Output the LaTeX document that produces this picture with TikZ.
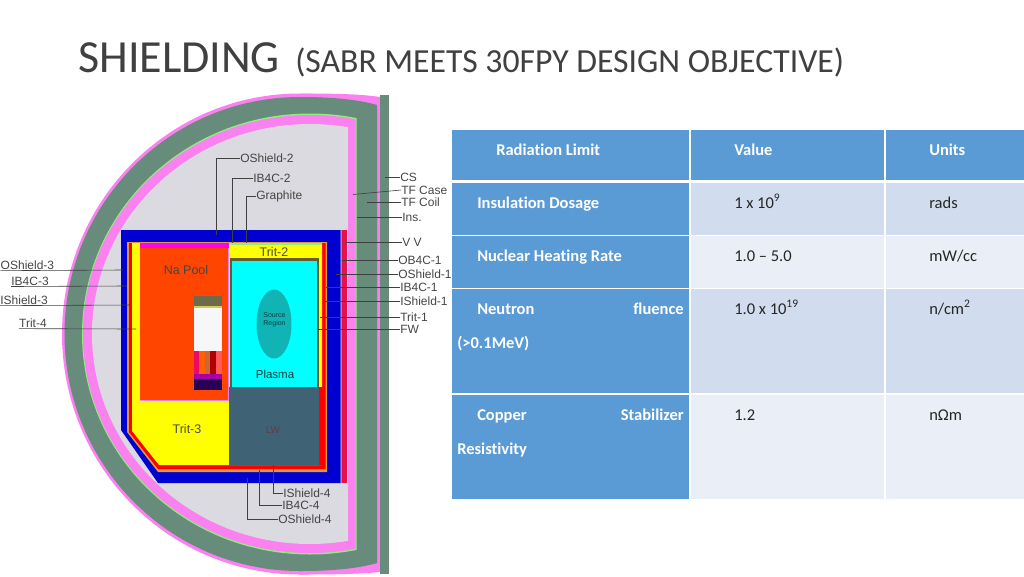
\documentclass[tikz,border=0pt]{standalone}
\usepackage{fontspec}
\setmainfont[Ligatures={TeX,NoCommon}]{Carlito}
\newfontfamily\labfont{Liberation Sans}
\usepackage{tikz}
\definecolor{steel}{HTML}{5B9BD5}
\definecolor{rowdark}{HTML}{D1DDEE}
\definecolor{rowlight}{HTML}{E9EEF7}
\definecolor{coil}{HTML}{678C7C}
\definecolor{lilac}{HTML}{FB80F0}
\definecolor{lgreen}{HTML}{90EE80}
\definecolor{grayin}{HTML}{DADAE0}
\definecolor{navyblue}{HTML}{0000D0}
\definecolor{napool}{HTML}{FF4500}
\definecolor{wall}{HTML}{3F6274}
\definecolor{title}{HTML}{404040}
\definecolor{labtext}{HTML}{454545}
\definecolor{pureyellow}{HTML}{FFFF00}
\definecolor{purecyan}{HTML}{00FFFF}
\definecolor{puremagenta}{HTML}{FF00F0}
\definecolor{purered}{HTML}{FF0000}
\definecolor{crimsonv}{HTML}{E8104A}
\definecolor{framebrown}{HTML}{E09A3C}
\definecolor{plasmaframe}{HTML}{6B5A2A}
\definecolor{sourcereg}{HTML}{10B4B4}

\begin{document}
\begin{tikzpicture}[x=1pt, y=-1pt, line width=.5pt,
    lab/.style={font=\labfont\fontsize{12}{12}\selectfont, text=labtext, inner sep=0pt},
    inlab/.style={font=\labfont\fontsize{12.5}{12.5}\selectfont, text=labtext, inner sep=0pt},
    lead/.style={draw=black!75, line width=.6pt},
    head/.style={font=\fontsize{16.5}{18}\selectfont\bfseries, text=white, anchor=base west, inner sep=0pt},
    cell/.style={font=\fontsize{16.5}{18}\selectfont, text=black!85, anchor=base west, inner sep=0pt}]
    \clip (0,0) rectangle (1024,576);

    % title
    \node[anchor=base west, inner sep=0pt, text=title, font=\fontsize{46}{46}\selectfont] (shield) at (78,72) {SHIELDING};
    \node[anchor=base west, inner sep=0pt, text=title, font=\fontsize{33.7}{34}\selectfont] (objective) at (295,72) {(SABR MEETS 30FPY DESIGN OBJECTIVE)};

    % machine cross section, outside in
    \fill[lilac] (300,93.5) .. controls (335,93.5) and (360,94) .. (380,97) -- (380,572) .. controls (360,574) and (335,574.5) .. (300,574.5) -- cycle;
    \begin{scope}
        \clip (0,90) rectangle (380,576);
        \fill[lilac] (300,334) ellipse (238 and 240.5);
    \end{scope}
    \fill[coil] (300,97) .. controls (335,97) and (360,100) .. (377,105) -- (377,563) .. controls (360,568) and (335,571) .. (300,571) -- cycle;
    \begin{scope}
        \clip (0,90) rectangle (377,576);
        \fill[coil] (300,334) ellipse (235.5 and 237);
    \end{scope}
    \begin{scope}
        \clip (0,90) rectangle (356.5,576);
        \fill[lgreen] (310,334) ellipse (228 and 220.5);
    \end{scope}
    \begin{scope}
        \clip (0,90) rectangle (355.5,576);
        \fill[lilac] (310,334) ellipse (227 and 219);
    \end{scope}
    \begin{scope}
        \clip (0,90) rectangle (348,576);
        \fill[grayin] (310,334) ellipse (218 and 210);
    \end{scope}
    \fill[coil] (380,95) rectangle (389,574);

    % vessel and shields
    \fill[navyblue] (121,230) -- (340.5,230) -- (340.5,483) -- (158,483) -- (121,430) -- cycle;
    \fill[crimsonv] (340.5,230) rectangle (347,483);
    \fill[red!60!white] (340.5,230) rectangle (342,483);
    \fill[framebrown] (127,242) -- (327,242) -- (327,472) -- (158,472) -- (127,432) -- cycle;
    \fill[purered] (129,243) -- (325.5,243) -- (325.5,469) -- (158,469) -- (129,432) -- cycle;
    \fill[pureyellow] (132,243) -- (322,243) -- (322,465) -- (159,465) -- (132,431) -- cycle;

    % Na pool
    \fill[puremagenta] (140,243) rectangle (228.5,248);
    \fill[lilac] (140,248) rectangle (228.5,401);
    \fill[napool] (140,248) rectangle (227.5,400);
    \fill[black!65!yellow] (193.7,296) rectangle (222,306);
    \fill[yellow!60!gray] (193.7,306) rectangle (222,308);
    \fill[white!97!black] (193.7,308) rectangle (222,351);
    \fill[magenta!60!red] (193.7,351) rectangle (199,374);
    \fill[orange!75!red] (199,351) rectangle (205,374);
    \fill[brown!80!red] (205,351) rectangle (210,374);
    \fill[red!70!black] (210,351) rectangle (215.7,374);
    \fill[red!65!white] (215.7,351) rectangle (222,374);
    \fill[violet!70!magenta] (193.7,374) rectangle (222,379);
    \fill[blue!40!black!85!red] (193.7,379) rectangle (222,390);

    % plasma chamber
    \fill[lgreen] (229,243) rectangle (322,244.5);
    \fill[plasmaframe] (229.5,258) rectangle (319,388);
    \fill[purecyan] (232,261) rectangle (317,388);
    \fill[sourcereg] (274,324) ellipse (17.5 and 34.5);
    \fill[purered] (319,387) rectangle (324,465);
    \fill[wall] (229,387) rectangle (319,464.5);

    % labels inside the machine
    \node[inlab] (napoollab) at (186,270) {Na Pool};
    \node[inlab, text=black!70] (trittwolab) at (274,252) {Trit-2};
    \node[inlab, font=\labfont\fontsize{11.5}{12}\selectfont, text=teal!50!black] (plasmalab) at (275,374) {Plasma};
    \node[inlab, text=black!70] (tritthreelab) at (187,429) {Trit-3};
    \node[inlab, font=\labfont\fontsize{7}{7.5}\selectfont, align=center, text=teal!50!black] (sourcelab) at (274.5,320) {Source\\Region};
    \node[inlab, font=\labfont\fontsize{10}{10}\selectfont, text=red!25!wall!85!black] (lwlab) at (273,430) {LW};

    % top leaders
    \node[lab, anchor=west] (oshieldtwo) at (240,158) {OShield-2};
    \coordinate (oshieldtwoend) at (216.5,235);
    \draw[lead] (oshieldtwo.west) -| (oshieldtwoend);
    \node[lab, anchor=west] (ibtwo) at (253,178) {IB4C-2};
    \coordinate (ibtwoend) at (232,243);
    \draw[lead] (ibtwo.west) -| (ibtwoend);
    \node[lab, anchor=west] (graphite) at (256,196.5) {Graphite};
    \coordinate (graphiteend) at (246,243);
    \draw[lead] (graphite.west) -| (graphiteend);

    % right leaders
    \node[lab, anchor=west] (cs) at (400,177) {CS};
    \coordinate (csend) at (385,177);
    \draw[lead] (cs) -- (csend);
    \node[lab, anchor=west] (tfcase) at (401,190) {TF Case};
    \coordinate (tfcaseend) at (353,194.5);
    \draw[lead] (tfcase.west) -- (tfcaseend);
    \node[lab, anchor=west] (tfcoil) at (401,202) {TF Coil};
    \coordinate (tfcoilend) at (367,202);
    \draw[lead] (tfcoil) -- (tfcoilend);
    \node[lab, anchor=west] (ins) at (402,217) {Ins.};
    \coordinate (insend) at (357,217);
    \draw[lead] (ins) -- (insend);
    \node[lab, anchor=west] (vv) at (402,242) {V V};
    \coordinate (vvend) at (346,242);
    \draw[lead] (vv) -- (vvend);
    \node[lab, anchor=west] (obone) at (398,260) {OB4C-1};
    \coordinate (oboneend) at (342,260);
    \draw[lead] (obone) -- (oboneend);
    \node[lab, anchor=west] (oshieldone) at (398,274) {OShield-1};
    \coordinate (oshieldoneend) at (336,274);
    \draw[lead] (oshieldone) -- (oshieldoneend);
    \node[lab, anchor=west] (ibone) at (400,287) {IB4C-1};
    \coordinate (iboneend) at (326,287);
    \draw[lead] (ibone) -- (iboneend);
    \node[lab, anchor=west] (ishieldone) at (400,301) {IShield-1};
    \coordinate (ishieldoneend) at (324,301);
    \draw[lead] (ishieldone) -- (ishieldoneend);
    \node[lab, anchor=west] (tritone) at (400,317) {Trit-1};
    \coordinate (tritoneend) at (320,317);
    \draw[lead] (tritone) -- (tritoneend);
    \node[lab, anchor=west] (fw) at (400,329) {FW};
    \coordinate (fwend) at (318,329);
    \draw[lead] (fw) -- (fwend);

    % left leaders
    \node[lab, anchor=west] (oshieldthree) at (0.5,265) {OShield-3};
    \coordinate (oshieldthreeend) at (123,270);
    \draw[lead] (oshieldthree.south west) ++(0,1) -- (oshieldthreeend);
    \node[lab, anchor=east] (ibthree) at (49,281) {IB4C-3};
    \coordinate (ibthreeend) at (127,286);
    \draw[lead] (ibthree.south west) ++(0,1) -- (ibthreeend);
    \node[lab, anchor=east] (ishieldthree) at (48,300) {IShield-3};
    \coordinate (ishieldthreeend) at (130,305);
    \draw[lead] (ishieldthree.south west) ++(0,1) -- (ishieldthreeend);
    \node[lab, anchor=east] (tritfour) at (47,323) {Trit-4};
    \coordinate (tritfourend) at (136,329);
    \draw[lead] (tritfour.south west) ++(0,1) -- (tritfourend);

    % bottom leaders
    \node[lab, anchor=west] (ishieldfour) at (283,493.5) {IShield-4};
    \coordinate (ishieldfourend) at (273.7,465);
    \draw[lead] (ishieldfour.west) -| (ishieldfourend);
    \node[lab, anchor=west] (ibfour) at (282,505) {IB4C-4};
    \coordinate (ibfourend) at (259,470);
    \draw[lead] (ibfour.west) -| (ibfourend);
    \node[lab, anchor=west] (oshieldfour) at (278,519) {OShield-4};
    \coordinate (oshieldfourend) at (247,478);
    \draw[lead] (oshieldfour.west) -| (oshieldfourend);

    % table
    \fill[steel] (452,130) rectangle (689,180);
    \fill[steel] (690.5,130) rectangle (884,180);
    \fill[steel] (885.5,130) rectangle (1024,180);
    \fill[steel] (452,183) rectangle (689,234.5);
    \fill[steel] (452,236) rectangle (689,287.5);
    \fill[steel] (452,289) rectangle (689,393);
    \fill[steel] (452,395) rectangle (689,499);
    \fill[rowdark] (690.5,183) rectangle (884,234.5);
    \fill[rowdark] (885.5,183) rectangle (1024,234.5);
    \fill[rowlight] (690.5,236) rectangle (884,287.5);
    \fill[rowlight] (885.5,236) rectangle (1024,287.5);
    \fill[rowdark] (690.5,289) rectangle (884,393);
    \fill[rowdark] (885.5,289) rectangle (1024,393);
    \fill[rowlight] (690.5,395) rectangle (884,499);
    \fill[rowlight] (885.5,395) rectangle (1024,499);

    \node[head] (limit) at (496,155) {Radiation Limit};
    \node[head] (value) at (734,155) {Value};
    \node[head] (units) at (929,155) {Units};
    \node[head] (dosage) at (477,208) {Insulation Dosage};
    \node[cell] (dosageval) at (734,208) {1 x 10\textsuperscript{9}};
    \node[cell] (dosageunit) at (929,208) {rads};
    \node[head] (heating) at (477,261) {Nuclear Heating Rate};
    \node[cell] (heatingval) at (734,261) {1.0 -- 5.0};
    \node[cell] (heatingunit) at (929,261) {mW/cc};
    \node[head] (neutron) at (477,314) {Neutron};
    \node[head, anchor=base east] (fluence) at (684,314) {fluence};
    \node[head] (energy) at (457,348) {(>0.1MeV)};
    \node[cell] (fluenceval) at (734,314) {1.0 x 10\textsuperscript{19}};
    \node[cell] (fluenceunit) at (929,314) {n/cm\textsuperscript{2}};
    \node[head] (copper) at (477,420) {Copper};
    \node[head, anchor=base east] (stabilizer) at (684,420) {Stabilizer};
    \node[head] (resist) at (457,454) {Resistivity};
    \node[cell] (resistval) at (734,420) {1.2};
    \node[cell] (resistunit) at (929,420) {nΩm};
\end{tikzpicture}
\end{document}
